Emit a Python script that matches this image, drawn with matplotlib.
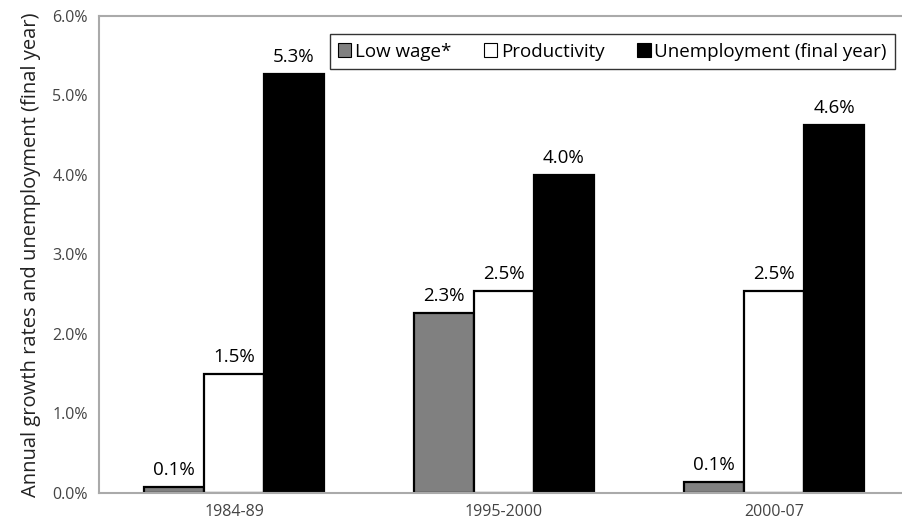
import matplotlib.pyplot as plt
import numpy as np

periods = ["1984-89", "1995-2000", "2000-07"]
low_wage = [0.08, 2.26, 0.14]
productivity = [1.50, 2.54, 2.54]
unemployment = [5.27, 4.00, 4.63]

series = [
    ("Low wage*", low_wage, "#808080"),
    ("Productivity", productivity, "white"),
    ("Unemployment (final year)", unemployment, "black"),
]

plt.rcParams['font.family'] = ['Open Sans', 'DejaVu Sans']

fig = plt.figure(figsize=(9.02, 5.23), dpi=100)
ax = fig.add_axes([0.1098, 0.0574, 0.898, 0.912])

x = np.arange(len(periods))
w = 0.222
for i, (name, vals, color) in enumerate(series):
    pos = x + (i - 1) * w
    bars = ax.bar(pos, vals, w, color=color, edgecolor="black", linewidth=1.6, label=name)
    for b, v in zip(bars, vals):
        ax.text(b.get_x() + b.get_width() / 2, v + 0.1, f"{v:.1f}%",
                ha="center", va="bottom", fontsize=13.5, color="black")

ax.set_xlim(-0.5, 2.5)
ax.set_ylim(0, 6)
ax.set_yticks(np.arange(0, 7, 1))
ax.set_yticklabels([f"{t:.1f}%" for t in range(7)])
ax.set_xticks(x)
ax.set_xticklabels(periods)
ax.tick_params(length=0, labelsize=11.5, colors="#444444", pad=8)
for s in ax.spines.values():
    s.set_color("#aaaaaa")
    s.set_linewidth(1.5)
ax.set_ylabel("Annual growth rates and unemployment (final year)", fontsize=14.5,
              color="#222222", labelpad=8)

leg = ax.legend(loc="upper right", bbox_to_anchor=(0.983, 0.962), ncol=3, frameon=True,
                fancybox=False, edgecolor="black", fontsize=13.5, handlelength=0.7,
                handleheight=0.7, handletextpad=0.2, columnspacing=1.75,
                borderpad=0.45, borderaxespad=0)
leg.get_frame().set_linewidth(1.0)
for h in leg.legend_handles:
    h.set_linewidth(0.8)

fig.savefig("out.png", dpi=100)
